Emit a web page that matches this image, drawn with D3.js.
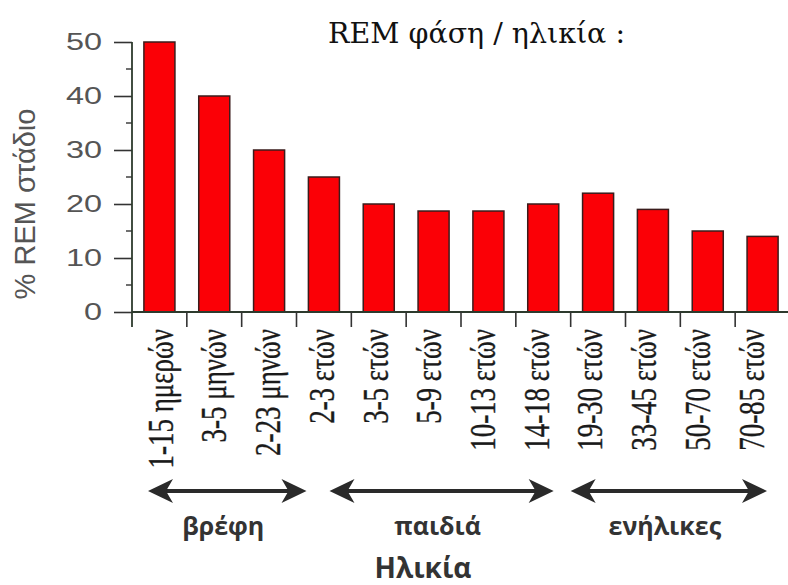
<!DOCTYPE html>
<html>
<head>
<meta charset="utf-8">
<script src="https://cdn.jsdelivr.net/npm/d3@7"></script>
<style>
  html, body { margin: 0; padding: 0; background: #fff; }
  svg { display: block; }
</style>
</head>
<body>
<svg id="chart" width="788" height="585"></svg>
<script>
// ---------- data ----------
const categories = ["1-15 ημερών", "3-5 μηνών", "2-23 μηνών", "2-3 ετών", "3-5 ετών", "5-9 ετών",
                    "10-13 ετών", "14-18 ετών", "19-30 ετών", "33-45 ετών", "50-70 ετών", "70-85 ετών"];
const remPercent = [50, 40, 30, 25, 20, 18.7, 18.7, 20, 22, 19, 15, 14];
const yTicks = [0, 10, 20, 30, 40, 50];
const groupLabels = ["βρέφη", "παιδιά", "ενήλικες"];
const groupFirst = ["1-15 ημερών", "2-3 ετών", "19-30 ετών"];
const groupLast = ["2-23 μηνών", "14-18 ετών", "70-85 ετών"];
const titleText = "REM φάση / ηλικία :";
const yTitle = "% REM στάδιο";
const xTitle = "Ηλικία";

// ---------- layout ----------
const svg = d3.select("#chart");
const plotLeft = 132, plotRight = 790, plotTop = 42, plotBottom = 312;

const x = d3.scaleBand().domain(categories).range([plotLeft, plotRight])
  .paddingInner(0.434).paddingOuter(0.217);
const xLabel = d3.scalePoint().domain(categories).range([161, 752]);
const y = d3.scaleLinear().domain([0, 50]).range([plotBottom, plotTop]);
const step = x.step();
const bandStart = c => x(c) - step * x.paddingInner() / 2;

// title
svg.append("text")
  .attr("x", 328).attr("y", 43)
  .attr("font-family", "DejaVu Serif, Liberation Serif, serif")
  .attr("font-size", 27)
  .attr("fill", "#111")
  .attr("textLength", 297)
  .attr("lengthAdjust", "spacingAndGlyphs")
  .text(titleText);

// bars
svg.append("g").selectAll("rect")
  .data(categories)
  .join("rect")
  .attr("x", c => x(c))
  .attr("y", (c, i) => y(remPercent[i]))
  .attr("width", x.bandwidth())
  .attr("height", (c, i) => y(0) - y(remPercent[i]))
  .attr("fill", "#fb0006")
  .attr("stroke", "#3a1c1c")
  .attr("stroke-width", 1.5);

// y axis
const yAxis = svg.append("g")
  .attr("transform", `translate(${plotLeft},0)`)
  .call(d3.axisLeft(y).tickValues(yTicks).tickSize(18).tickPadding(12).tickSizeOuter(0));
yAxis.select(".domain").remove();
yAxis.selectAll(".tick line").attr("stroke", "#333").attr("stroke-width", 1.6);
yAxis.selectAll(".tick text")
  .attr("font-family", "Liberation Sans, Arial, sans-serif")
  .attr("font-size", 24)
  .attr("fill", "#555")
  .attr("x", -30 / 1.35)
  .attr("transform", "scale(1.35,1)");
// minor ticks
const minor = y.ticks(10).filter(v => !yTicks.includes(v));
yAxis.append("g").selectAll("line").data(minor).join("line")
  .attr("x1", -6).attr("x2", 0)
  .attr("y1", d => y(d)).attr("y2", d => y(d))
  .attr("stroke", "#333").attr("stroke-width", 1.4);
// axis line
svg.append("line")
  .attr("x1", plotLeft).attr("x2", plotLeft).attr("y1", plotTop).attr("y2", plotBottom + 15)
  .attr("stroke", "#2d3a2d").attr("stroke-width", 1.8);

// x axis line and boundary ticks
svg.append("line")
  .attr("x1", plotLeft).attr("x2", plotRight).attr("y1", plotBottom).attr("y2", plotBottom)
  .attr("stroke", "#2d3a2d").attr("stroke-width", 1.8);
svg.append("g").selectAll("line")
  .data(categories.slice(1))
  .join("line")
  .attr("x1", c => bandStart(c)).attr("x2", c => bandStart(c))
  .attr("y1", plotBottom).attr("y2", plotBottom + 15)
  .attr("stroke", "#333").attr("stroke-width", 1.6);

// category labels (rotated)
svg.append("g").selectAll("text")
  .data(categories)
  .join("text")
  .attr("transform", c => `translate(${xLabel(c)},${plotBottom + 17}) rotate(-90) scale(1,1.3)`)
  .attr("text-anchor", "end")
  .attr("dy", "0.33em")
  .attr("font-family", "Liberation Serif, DejaVu Serif, serif")
  .attr("font-size", 27)
  .attr("fill", "#1a1a1a")
  .attr("stroke", "#1a1a1a")
  .attr("stroke-width", 0.3)
  .text(c => c);

// y title
svg.append("text")
  .attr("transform", "translate(25,204) rotate(-90)")
  .attr("text-anchor", "middle")
  .attr("dy", "0.35em")
  .attr("font-family", "Liberation Sans, Arial, sans-serif")
  .attr("font-size", 29)
  .attr("fill", "#555")
  .text(yTitle);

// group arrows
const arrowY = 491;
const groups = groupLabels.map((g, i) => {
  const s = bandStart(groupFirst[i]);
  const e = bandStart(groupLast[i]) + step;
  return { label: g, s, e };
});
const trims = [[16, -10], [33, 17], [0, 23]];
groups.forEach((g, i) => { g.x1 = g.s + trims[i][0]; g.x2 = g.e - trims[i][1]; });

const ag = svg.append("g");
groups.forEach(g => {
  ag.append("line")
    .attr("x1", g.x1 + 12).attr("x2", g.x2 - 12)
    .attr("y1", arrowY).attr("y2", arrowY)
    .attr("stroke", "#2a2a2a").attr("stroke-width", 4);
  const head = "M0,0 L-25,-12 L-18,0 L-25,12 Z";
  ag.append("path").attr("d", head)
    .attr("transform", `translate(${g.x2},${arrowY})`).attr("fill", "#2a2a2a");
  ag.append("path").attr("d", head)
    .attr("transform", `translate(${g.x1},${arrowY}) scale(-1,1)`).attr("fill", "#2a2a2a");
  ag.append("text")
    .attr("x", (g.x1 + g.x2) / 2 - 4).attr("y", 535)
    .attr("text-anchor", "middle")
    .attr("font-family", "Open Sans, DejaVu Sans, sans-serif")
    .attr("font-weight", "bold")
    .attr("font-size", 25)
    .attr("fill", "#333")
    .text(g.label);
});

// x title
svg.append("text")
  .attr("x", 423).attr("y", 578)
  .attr("text-anchor", "middle")
  .attr("font-family", "Open Sans, DejaVu Sans, sans-serif")
  .attr("font-weight", "bold")
  .attr("font-size", 28)
  .attr("fill", "#333")
  .text(xTitle);
</script>
</body>
</html>
